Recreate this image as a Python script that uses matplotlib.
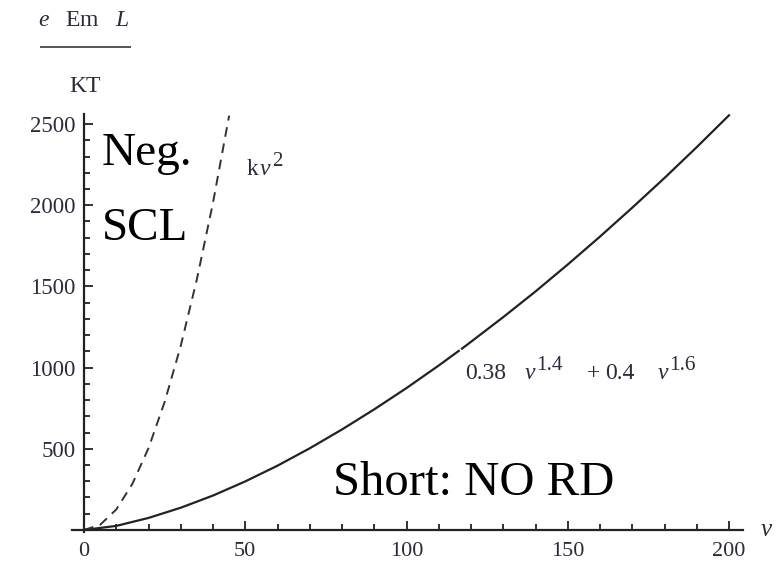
import numpy as np
import matplotlib.pyplot as plt
from matplotlib.ticker import MultipleLocator
from matplotlib.transforms import offset_copy

plt.rcParams['font.family'] = ['Liberation Serif', 'DejaVu Serif']
plt.rcParams['mathtext.fontset'] = 'custom'
plt.rcParams['mathtext.rm'] = 'Liberation Serif'
plt.rcParams['mathtext.it'] = 'Liberation Serif:italic'

# solid curve: 0.38 nu^1.4 + 0.4 nu^1.6,
# drawn in two pieces with the small break near the label
nu_solid_a = [0, 10, 20, 30, 40, 50, 60, 70, 80, 90, 100, 110, 116.2]
y_solid_a = [0, 25, 74, 137, 212, 299, 396, 503, 619, 743, 874, 1013, 1103]
nu_solid_b = [117.2, 120, 130, 140, 150, 160, 170, 180, 190, 200]
y_solid_b = [1117, 1159, 1311, 1469, 1635, 1807, 1985, 2168, 2358, 2554]

# dashed curve: k nu^2
nu_dash = [0, 5, 10, 15, 20, 25, 30, 35, 40, 45]
y_dash = [0, 32, 126, 284, 504, 788, 1134, 1544, 2016, 2552]

INK = '#2b2b3b'

fig = plt.figure(figsize=(7.8, 5.63), dpi=100)
ax = fig.add_axes([0.0924, 0.0558, 0.860, 0.7417])

ax.plot(nu_solid_a, y_solid_a, color='#222222', linewidth=1.6)
ax.plot(nu_solid_b, y_solid_b, color='#222222', linewidth=1.6)
ax.plot(nu_dash, y_dash, color='#333333', linewidth=1.4, dashes=(5, 3.5))

ax.set_xlim(-3.7, 204.3)
ax.set_ylim(-10, 2562)

ax.spines['left'].set_position(('data', 0))
ax.spines['bottom'].set_position(('data', 0))
ax.spines['right'].set_visible(False)
ax.spines['top'].set_visible(False)
for s in ['left', 'bottom']:
    ax.spines[s].set_linewidth(1.6)
    ax.spines[s].set_color('#222222')

ax.xaxis.set_major_locator(MultipleLocator(50))
ax.xaxis.set_minor_locator(MultipleLocator(10))
ax.yaxis.set_major_locator(MultipleLocator(500))
ax.yaxis.set_minor_locator(MultipleLocator(100))
ax.set_yticks([500, 1000, 1500, 2000, 2500])

ax.tick_params(which='both', direction='in', width=1.3, labelsize=16.5,
               labelcolor=INK, color='#222222')
ax.tick_params(which='major', length=6.3)
ax.tick_params(which='minor', length=4.2)
ax.tick_params(axis='x', pad=8.5, labelsize=16)
ax.tick_params(axis='y', pad=6)

# big annotations
ax.text(5.6, 2248, 'Neg.', fontsize=34, ha='left', va='baseline')
ax.text(5.6, 1786, 'SCL', fontsize=34, ha='left', va='baseline')
ax.text(77.2, 215, 'Short: NO RD', fontsize=35, ha='left', va='baseline')


def pieces(x, y, parts):
    # parts: (text, dx px, dy px, size); offsets are in pixels at dpi 100
    for s, dx, dy, size in parts:
        tr = offset_copy(ax.transData, fig=fig, x=dx, y=dy, units='dots')
        ax.text(x, y, s, transform=tr, fontsize=size, ha='left',
                va='baseline', color=INK)


pieces(50.5, 2186, [('k', 0, 0, 17), (r'$\nu$', 12, 0, 17), ('2', 25, 9, 15)])
pieces(118.1, 930, [('0.38', 0, 0, 17), (r'$\nu$', 59, 0, 17),
                    ('1.4', 71, 9, 15.5), ('+', 122, 0, 17),
                    ('0.4', 140, 0, 17), (r'$\nu$', 192, 0, 17),
                    ('1.6', 204, 9, 15.5)])

ax.text(209.5, 0, r'$\nu$', fontsize=18, ha='left', va='center',
        color=INK, clip_on=False)

# y label as a fraction
fig.text(0.1077, 0.9627, r'$e\ \ \ \mathrm{Em}\ \ \ L$', fontsize=17,
         ha='center', va='center', color=INK)
fig.add_artist(plt.Line2D([0.0526, 0.1667], [0.9165, 0.9165], color='#555555',
                          linewidth=1.4))
fig.text(0.109, 0.8455, 'KT', fontsize=17, ha='center', va='center',
         color=INK)

plt.savefig('out.png', dpi=100)
